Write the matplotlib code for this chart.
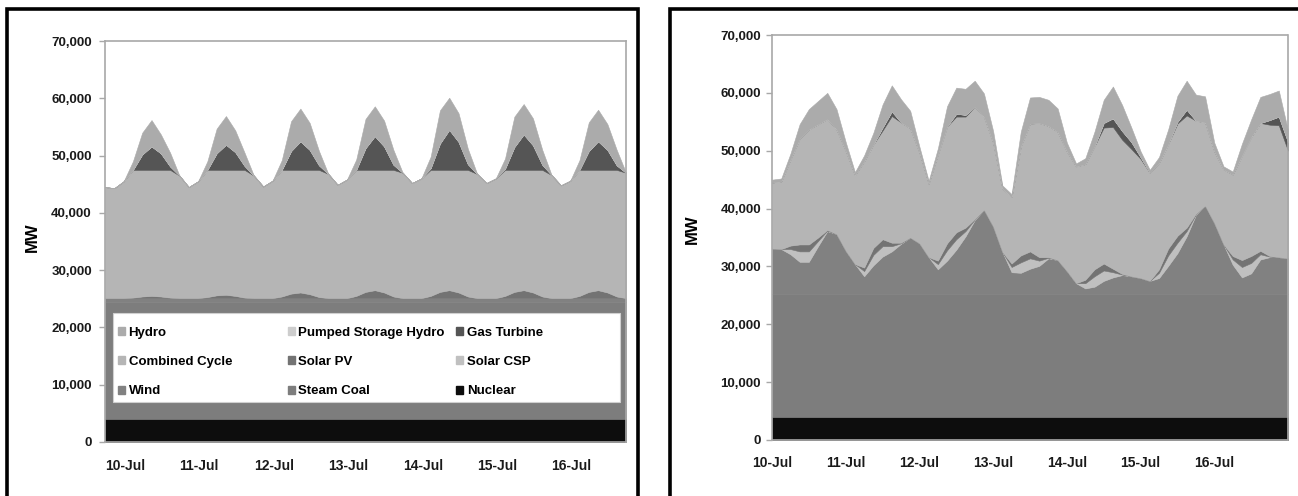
import matplotlib
matplotlib.use("Agg")
import matplotlib.pyplot as plt
from matplotlib.patches import Rectangle, Patch
from matplotlib.legend import Legend
from matplotlib.font_manager import FontProperties

plt.rcParams['font.family'] = ['Liberation Sans', 'DejaVu Sans']

# ---------------- data ----------------
hours = list(range(0, 169, 3))          # 10-Jul 00:00 .. 17-Jul 00:00, 3-hourly
day_ticks = [0, 24, 48, 72, 96, 120, 144]
day_labels = ["10-Jul", "11-Jul", "12-Jul", "13-Jul", "14-Jul", "15-Jul", "16-Jul"]
y_ticks = [0, 10000, 20000, 30000, 40000, 50000, 60000, 70000]
y_labels = ["0", "10,000", "20,000", "30,000", "40,000", "50,000", "60,000", "70,000"]

techs = ["Nuclear", "Steam Coal", "Wind", "Solar CSP", "Solar PV",
         "Combined Cycle", "Gas Turbine", "Pumped Storage Hydro", "Hydro"]
legend_rows = [["Hydro", "Pumped Storage Hydro", "Gas Turbine"],
               ["Combined Cycle", "Solar PV", "Solar CSP"],
               ["Wind", "Steam Coal", "Nuclear"]]
tech_colors = {
    "Hydro": "#ababab",
    "Pumped Storage Hydro": "#cdcdcd",
    "Gas Turbine": "#555555",
    "Combined Cycle": "#b5b5b5",
    "Solar PV": "#737373",
    "Solar CSP": "#c0c0c0",
    "Wind": "#818181",
    "Steam Coal": "#7d7d7d",
    "Nuclear": "#0d0d0d",
}

# Left panel (MW)
L_nuclear = [4000] * 57
L_coal = [20500] * 57
L_wind = [600] * 57
L_csp = [0] * 57
L_pv = [0, 0, 0, 100, 300, 400, 300, 100,
        0, 0, 0, 200, 500, 600, 400, 100,
        0, 0, 0, 300, 800, 1000, 700, 200,
        0, 0, 0, 400, 1100, 1400, 1000, 300,
        0, 0, 0, 400, 1100, 1400, 1000, 300,
        0, 0, 0, 400, 1100, 1400, 1000, 300,
        0, 0, 0, 400, 1100, 1400, 1000, 300,
        0]
L_cc = [19400, 19200, 20400, 22300, 22100, 22000, 22100, 22300,
        21400, 19400, 20400, 22200, 21900, 21800, 22000, 22300,
        21400, 19500, 20500, 22100, 21600, 21400, 21700, 22200,
        21700, 19800, 20700, 22000, 21300, 21000, 21400, 22100,
        21900, 20100, 20900, 22000, 21300, 21000, 21400, 22100,
        21700, 20100, 20900, 22000, 21300, 21000, 21400, 22100,
        21500, 19700, 20500, 22000, 21300, 21000, 21400, 22100,
        21900]
L_gt = [0, 0, 0, 0, 2700, 4100, 2900, 600,
        0, 0, 0, 0, 2900, 4400, 3100, 700,
        0, 0, 0, 0, 3300, 5000, 3500, 800,
        0, 0, 0, 0, 3800, 5900, 4100, 900,
        0, 0, 0, 300, 4600, 7000, 4900, 1000,
        0, 0, 0, 200, 4000, 6200, 4300, 900,
        0, 0, 0, 0, 3300, 5000, 3500, 800,
        0]
L_psh = [0] * 57
L_hydro = [0, 0, 0, 1500, 3800, 4600, 3300, 2400,
           0, 0, 0, 1500, 4300, 5000, 3800, 2300,
           0, 0, 0, 1700, 5200, 5700, 4700, 2500,
           0, 0, 0, 1800, 5100, 5200, 4500, 2600,
           0, 0, 0, 2000, 5800, 5600, 5000, 2700,
           0, 0, 0, 1800, 5300, 5300, 4700, 2600,
           0, 0, 0, 1700, 5000, 5500, 4500, 2700,
           0]

# Right panel (MW)
R_nuclear = [4000] * 57
R_coal = [21200] * 57
R_wind = [7900, 7800, 6900, 5600, 5600, 8300, 10900, 10400,
          7500, 5200, 3100, 5000, 6500, 7400, 8700, 9800,
          8800, 6400, 4300, 5800, 7700, 10000, 12800, 14600,
          11700, 7300, 3800, 3700, 4400, 4900, 6200, 5900,
          4000, 1900, 1000, 1300, 2300, 2900, 3300, 3100,
          2800, 2300, 2800, 4900, 7100, 10000, 13700, 15300,
          12300, 8600, 5100, 2900, 3600, 6000, 6400, 6400,
          6200]
R_csp = [0, 0, 900, 1800, 1800, 900, 100, 0,
         0, 0, 900, 1800, 1800, 900, 100, 0,
         0, 0, 900, 1800, 1800, 900, 100, 0,
         0, 0, 900, 1800, 1800, 900, 100, 0,
         0, 0, 900, 1800, 1800, 900, 100, 0,
         0, 0, 900, 1800, 1800, 900, 100, 0,
         0, 0, 900, 1800, 1800, 900, 100, 0,
         0]
R_pv = [0, 0, 600, 1200, 1200, 600, 100, 0,
        0, 0, 600, 1200, 1200, 600, 100, 0,
        0, 0, 600, 1200, 1200, 600, 100, 0,
        0, 0, 600, 1200, 1200, 600, 100, 0,
        0, 0, 600, 1200, 1200, 600, 100, 0,
        0, 0, 600, 1200, 1200, 600, 100, 0,
        0, 0, 600, 1200, 1200, 600, 100, 0,
        0]
R_cc = [11400, 11700, 14900, 18300, 19900, 19600, 19200, 18100,
        17300, 15400, 18400, 17900, 18800, 21900, 20800, 18900,
        15700, 12700, 18400, 20200, 20000, 19200, 19400, 16100,
        14500, 11000, 11500, 18900, 22100, 23200, 22700, 22200,
        20700, 20200, 20000, 21300, 23500, 24500, 23200, 22000,
        20600, 18700, 18400, 18100, 19400, 19400, 16100, 14400,
        12400, 13000, 14100, 18100, 20600, 22100, 22700, 22800,
        18600]
R_gt = [0, 0, 0, 0, 0, 0, 0, 0,
        0, 0, 0, 0, 500, 800, 0, 0,
        0, 0, 0, 0, 500, 300, 0, 0,
        0, 0, 0, 0, 0, 0, 0, 0,
        0, 0, 0, 0, 800, 1500, 1500, 1200,
        300, 0, 0, 0, 300, 1000, 0, 0,
        0, 0, 0, 0, 0, 0, 800, 1500,
        1500]
R_psh = [0] * 57
R_hydro = [500, 500, 1000, 2500, 3500, 4000, 4500, 3500,
           1500, 500, 1000, 2000, 4000, 4500, 4000, 3000,
           1000, 500, 1000, 3500, 4500, 4500, 4500, 4000,
           2000, 500, 500, 2500, 4500, 4500, 4500, 4000,
           1500, 500, 1000, 2500, 4000, 5500, 4500, 2500,
           1000, 500, 1000, 2500, 4500, 5000, 4500, 4500,
           1500, 500, 500, 2000, 3000, 4500, 4500, 4500,
           2000]

left_series = [L_nuclear, L_coal, L_wind, L_csp, L_pv, L_cc, L_gt, L_psh, L_hydro]
right_series = [R_nuclear, R_coal, R_wind, R_csp, R_pv, R_cc, R_gt, R_psh, R_hydro]

# ---------------- figure ----------------
W, H = 1298, 496
fig = plt.figure(figsize=(W / 100, H / 100), dpi=100)
fig.patch.set_facecolor("white")

# panel frames
fig.add_artist(Rectangle((7 / W, -0.1), (638 - 7) / W, 1.1 - 9 / H,
                         transform=fig.transFigure, fill=False,
                         edgecolor="black", linewidth=2.6))
fig.add_artist(Rectangle((670 / W, -0.1), 1.0, 1.1 - 9 / H,
                         transform=fig.transFigure, fill=False,
                         edgecolor="black", linewidth=2.6))

axL = fig.add_axes([105 / W, 1 - 442 / H, 521 / W, 401 / H])
axR = fig.add_axes([772 / W, 1 - 440 / H, 516 / W, 405 / H])

bold_tick = FontProperties(family=['Liberation Sans', 'DejaVu Sans'], weight='bold', size=9.5)
bold_x = FontProperties(family=['Liberation Sans', 'DejaVu Sans'], weight='bold', size=10)

cols = [tech_colors[t] for t in techs]
for ax, series in ((axL, left_series), (axR, right_series)):
    polys = ax.stackplot(hours, *series, colors=cols, labels=techs)
    for p, c in zip(polys, cols):
        p.set_edgecolor(c)
        p.set_linewidth(0.4)
    ax.set_xlim(0, 168)
    ax.set_ylim(0, 70000)
    ax.set_yticks(y_ticks)
    ax.set_yticklabels(y_labels, fontproperties=bold_tick, color="#1a1a1a")
    for s in ax.spines.values():
        s.set_color("#a8a8a8")
        s.set_linestyle((0, (1, 1)))
        s.set_linewidth(1.2)
    ax.tick_params(axis="y", length=4, color="#a8a8a8", width=1)
    ax.tick_params(axis="x", length=0)
    ax.set_facecolor("white")

# left x labels: left aligned at day start
axL.set_xticks(day_ticks)
axL.set_xticklabels(day_labels, fontproperties=bold_x, color="#1a1a1a", ha="left")
axL.tick_params(axis="x", pad=12.5)
axL.tick_params(axis="y", pad=5.5)
# right x labels: centered on day start
axR.set_xticks(day_ticks)
axR.set_xticklabels(day_labels, fontproperties=bold_x, color="#1a1a1a", ha="center")
axR.tick_params(axis="x", pad=11.5)
axR.tick_params(axis="y", pad=4)

axL.set_ylabel("MW", fontsize=12, fontweight="bold")
axL.yaxis.set_label_coords(-0.125, 0.51)
axR.set_ylabel("MW", fontsize=12, fontweight="bold")
axR.yaxis.set_label_coords(-0.14, 0.52)

# legend (inside left plot, white box, 3 fixed-width columns)
axL.add_patch(Rectangle((0.0154, 0.0998), 0.9731, 0.2219, transform=axL.transAxes,
                        facecolor="white", edgecolor="#d0d0d0", linewidth=0.8, zorder=4))
leg_font = FontProperties(family=['Liberation Sans', 'DejaVu Sans'], weight='bold', size=9.5)
col_x = [0.025, 0.351, 0.674]
for ci, x in enumerate(col_x):
    names = [legend_rows[r][ci] for r in range(3)]
    handles = [Patch(facecolor=tech_colors[n], edgecolor=tech_colors[n]) for n in names]
    leg = Legend(axL, handles, names, loc="upper left", bbox_to_anchor=(x, 0.288),
                 frameon=False, borderpad=0, borderaxespad=0,
                 handlelength=0.55, handleheight=0.55, handletextpad=0.25,
                 labelspacing=1.32, prop=leg_font)
    leg.set_zorder(6)
    axL.add_artist(leg)

fig.savefig("out.png", dpi=100, facecolor="white")
